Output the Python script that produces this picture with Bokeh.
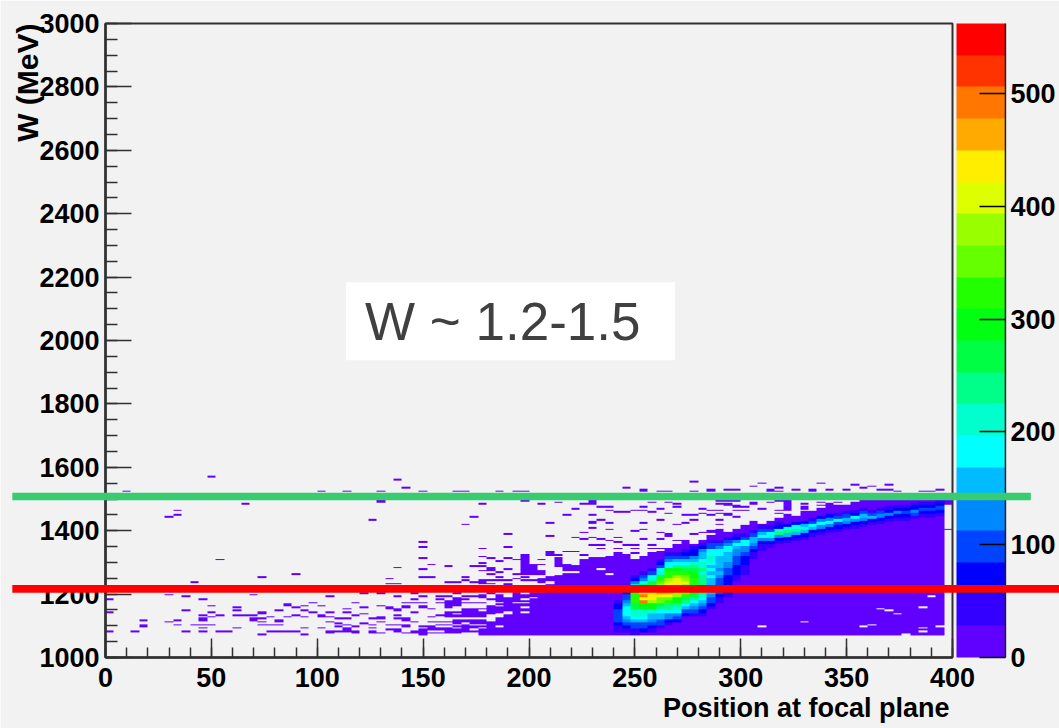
import numpy as np
from bokeh.plotting import figure
from bokeh.layouts import column
from bokeh.models import (Range1d, SingleIntervalTicker, FixedTicker, ColorBar, LinearColorMapper,
                          BoxAnnotation, Label)
from bokeh.embed import file_html
from bokeh.resources import INLINE

# colour levels, bottom (0) to top of the scale
palette = ["#6000ff", "#3300ff", "#0000ff", "#0044ff", "#0088ff", "#00bbff", "#00ffff", "#00ffcc",
           "#00ff88", "#00ff44", "#00ff11", "#22ff00", "#66ff00", "#99ff00", "#ddff00", "#ffee00",
           "#ffaa00", "#ff7700", "#ff3300", "#ff0000"]
z_max = 562
n_cols = 100       # columns across 0-400
cell_h = 5         # MeV per row
hot_h = 10         # MeV per hot cell
w_base = 1060

x_title = "Position at focal plane"
y_title = "W (MeV)"
annotation = "W ~ 1.2-1.5"
z_ticks = [0, 100, 200, 300, 400, 500]

sparse = {
    0: [1180, 1143, 1080], 2: [1520], 3: [1084], 4: [1116, 1103, 1098], 7: [1197, 1111, 1440],
    8: [1116, 1101, 1461, 1446], 9: [1190, 1148, 1084], 10: [1238, 1101],
    11: [1180, 1132, 1122, 1118, 1101, 1090, 1080], 12: [1568, 1164, 1143, 1126, 1101],
    13: [1307, 1132, 1084], 14: [1084], 15: [1158, 1148, 1132, 1090], 16: [1483, 1132],
    17: [1197, 1132, 1123, 1118], 18: [1254, 1143, 1138, 1120, 1115, 1110, 1105, 1075],
    19: [1126, 1101, 1084], 20: [1148, 1116, 1111, 1101, 1080], 21: [1167, 1162, 1126, 1080],
    22: [1265, 1158, 1132, 1084], 23: [1164, 1148, 1126, 1090, 1075], 24: [1175, 1143],
    25: [1525, 1164, 1132, 1126, 1090], 26: [1190, 1143, 1126, 1112, 1082, 1077],
    27: [1122, 1106, 1096, 1080], 28: [1525, 1154, 1143, 1122, 1101, 1090, 1087, 1084],
    29: [1175, 1133, 1096, 1082, 1077], 30: [1200, 1159, 1138, 1106],
    31: [1430, 1122, 1100, 1095, 1082, 1077],
    32: [1525, 1492, 1487, 1205, 1164, 1127, 1121, 1110, 1077],
    33: [1249, 1233, 1158, 1153, 1101, 1087],
    34: [1557, 1282, 1233, 1195, 1152, 1148, 1133, 1122, 1101, 1088, 1083],
    35: [1531, 1175, 1163, 1158, 1122, 1117, 1101, 1096, 1077],
    36: [1200, 1180, 1170, 1140, 1112, 1085],
    37: [1522, 1362, 1346, 1313, 1276, 1254, 1190, 1175, 1162, 1157, 1096, 1075],
    38: [1292, 1254, 1154, 1127, 1112], 39: [1195, 1182, 1175, 1112, 1101, 1090],
    40: [1287, 1239, 1195, 1112, 1103], 41: [1522, 1239, 1200, 1145],
    42: [1522, 1419, 1254, 1244, 1195, 1185, 1175, 1080],
    43: [1440, 1287, 1236, 1190, 1175, 1155, 1080],
    44: [1483, 1340, 1318, 1297, 1287, 1271, 1239, 1233, 1245, 1175, 1155, 1145],
    45: [1313, 1274, 1262, 1245, 1232, 1200, 1182], 46: [1522, 1303, 1268, 1255, 1245],
    47: [1388, 1346, 1313, 1276, 1240, 1234, 1229], 48: [1522, 1308, 1260, 1247],
    49: [1525, 1493, 1255, 1245], 50: [1292, 1245], 51: [1483, 1308, 1290],
    52: [1497, 1425, 1382], 53: [1489, 1323, 1311], 54: [1446, 1330], 55: [1497, 1467, 1376, 1330],
    56: [1483, 1392, 1371, 1320], 57: [1493, 1489, 1483, 1446, 1429, 1424, 1408, 1376, 1355],
    58: [1472, 1435, 1371, 1353, 1340], 59: [1472, 1461, 1425, 1402, 1366],
    60: [1497, 1456, 1376, 1360, 1340, 1329], 61: [1531, 1456, 1350],
    62: [1461, 1397, 1355, 1340, 1329, 1308], 63: [1528, 1524, 1472, 1461, 1425, 1402, 1371],
    64: [1489, 1456, 1355, 1340], 65: [1525, 1467, 1430, 1392, 1371, 1345],
    66: [1525, 1520, 1489, 1451, 1387, 1382], 67: [1483, 1472, 1419, 1366],
    68: [1446, 1425, 1369, 1364], 69: [1553, 1525, 1446, 1435, 1387], 70: [1467, 1451, 1392],
    71: [1528, 1524, 1461, 1446, 1397, 1392], 72: [1493, 1482, 1461, 1451, 1430, 1419],
    73: [1527, 1494, 1480, 1476, 1450, 1448], 74: [1527, 1494, 1479, 1471, 1460, 1445],
    75: [1471, 1460], 76: [1536, 1487, 1482], 77: [1547, 1469], 78: [1527, 1522, 1487],
    79: [1530, 1525, 1492, 1460, 1450], 81: [1527], 82: [1481, 1471, 1466],
    83: [1529, 1524], 84: [1547, 1487, 1479], 85: [1527, 1481], 86: [1487], 87: [1527],
    88: [1541], 89: [1532], 90: [1536], 91: [1527], 92: [1541, 1529], 93: [1523],
    96: [1523], 97: [1523], 98: [1527], 99: [1404],
}

solid = {
    36: [(1075, 1085)], 37: [(1075, 1092)],
    38: [(1077, 1100)], 39: [(1128, 1136), (1075, 1095)],
    40: [(1156, 1182), (1124, 1145), (1075, 1095)], 41: [(1161, 1192), (1124, 1135), (1075, 1119)],
    42: [(1127, 1156), (1112, 1118), (1087, 1103)], 43: [(1127, 1148), (1092, 1118)],
    44: [(1184, 1198), (1125, 1140), (1072, 1118)], 45: [(1275, 1283), (1135, 1166), (1072, 1115)],
    46: [(1165, 1200), (1140, 1158), (1072, 1130)], 47: [(1145, 1190), (1072, 1140)],
    48: [(1072, 1205)], 49: [(1261, 1324), (1072, 1200)], 50: [(1262, 1290), (1072, 1205)],
    51: [(1262, 1275), (1236, 1252), (1072, 1205)], 52: [(1321, 1333), (1239, 1254), (1072, 1229)],
    53: [(1285, 1310), (1072, 1262)], 54: [(1272, 1297), (1072, 1266)],
    55: [(1268, 1292), (1072, 1263)], 56: [(1072, 1308)], 57: [(1072, 1313)], 58: [(1072, 1315)],
    59: [(1072, 1320)], 60: [(1072, 1324)], 61: [(1072, 1327)], 62: [(1072, 1303)],
    63: [(1072, 1320)], 64: [(1072, 1331)], 65: [(1072, 1336)], 66: [(1072, 1345)],
    67: [(1072, 1357)], 68: [(1072, 1360)], 69: [(1072, 1357)], 70: [(1072, 1371)],
    71: [(1072, 1384)], 72: [(1072, 1405)], 73: [(1072, 1397)], 74: [(1072, 1403)],
    75: [(1072, 1413)], 76: [(1072, 1432)], 77: [(1072, 1422)], 78: [(1072, 1432)],
    79: [(1072, 1440)], 80: [(1460, 1495), (1072, 1450)], 81: [(1072, 1445)], 82: [(1072, 1460)],
    83: [(1072, 1462)], 84: [(1072, 1468)], 85: [(1072, 1478)], 86: [(1072, 1480)],
    87: [(1072, 1480)], 88: [(1072, 1490)], 89: [(1072, 1505)], 90: [(1072, 1505)],
    91: [(1072, 1505)], 92: [(1072, 1505)], 93: [(1072, 1505)], 94: [(1072, 1505)],
    95: [(1072, 1505)], 96: [(1072, 1505)], 97: [(1072, 1505)], 98: [(1072, 1505)],
    99: [(1478, 1500)],
}

holes = {
    38: [1082], 39: [1085], 41: [1105, 1095], 43: [1105], 44: [1095, 1105],
    46: [1175, 1127, 1096], 47: [1196, 1138], 48: [1175], 49: [1182, 1172, 1156, 1143],
    50: [1187], 58: [1276], 59: [1261], 77: [1096], 82: [1112], 89: [1096], 90: [1101],
    91: [1154], 92: [1148], 93: [1138], 94: [1075], 96: [1159, 1090, 1080], 97: [1191], 98: [1096],
}

hot = {
    60: (1080, [1, 1, 2, 3, 3, 3, 3, 2, 2, 1]),
    61: (1080, [1, 2, 3, 4, 5, 6, 6, 6, 5, 4, 3, 3, 2, 1]),
    62: (1070, [1, 1, 3, 3, 5, 6, 7, 7, 9, 9, 11, 11, 11, 11, 9, 7, 4, 2, 1]),
    63: (1080, [2, 3, 3, 5, 6, 7, 7, 10, 10, 17, 14, 17, 15, 12, 9, 6, 4, 3, 1]),
    64: (1080, [1, 2, 3, 4, 5, 5, 7, 10, 10, 13, 15, 15, 15, 13, 11, 9, 7, 6, 3, 1]),
    65: (1090, [1, 3, 3, 5, 5, 6, 8, 9, 12, 12, 15, 16, 15, 13, 12, 11, 9, 7, 6, 3, 2, 1]),
    66: (1100, [1, 2, 4, 4, 6, 8, 8, 11, 12, 14, 16, 16, 15, 14, 13, 11, 11, 10, 6, 6, 4, 3, 1]),
    67: (1110, [2, 3, 4, 6, 7, 8, 10, 10, 13, 13, 14, 15, 15, 14, 13, 11, 10, 8, 6, 5, 3, 1]),
    68: (1130, [2, 3, 5, 6, 8, 9, 11, 12, 13, 13, 14, 13, 12, 11, 9, 8, 6, 5, 3, 2, 1]),
    69: (1130, [1, 3, 4, 5, 6, 8, 9, 10, 10, 11, 11, 11, 10, 10, 9, 8, 7, 5, 4, 2, 2, 1]),
    70: (1130, [1, 2, 3, 4, 5, 6, 7, 8, 8, 8, 8, 8, 8, 7, 8, 7, 7, 6, 5, 5, 4, 2, 1]),
    71: (1150, [1, 2, 3, 3, 4, 5, 5, 5, 5, 5, 6, 5, 6, 5, 6, 7, 7, 6, 6, 3, 3, 1]),
    72: (1170, [1, 1, 2, 3, 3, 3, 3, 3, 4, 5, 4, 5, 5, 5, 5, 6, 6, 4, 3, 1]),
    73: (1190, [1, 2, 2, 2, 2, 2, 2, 3, 3, 4, 4, 5, 5, 5, 6, 6, 4, 3, 1]),
    74: (1240, [1, 1, 2, 2, 2, 3, 3, 3, 4, 4, 5, 6, 4, 2, 1]),
    75: (1260, [1, 1, 1, 2, 2, 2, 3, 4, 4, 6, 6, 3, 1]),
    76: (1310, [1, 1, 2, 3, 4, 5, 5, 3, 1]),
    77: (1335, [1, 1, 2, 4, 6, 5, 3, 1]),
    78: (1345, [1, 2, 4, 7, 6, 3, 1]),
    79: (1355, [1, 2, 4, 8, 7, 2, 1]),
    80: (1360, [1, 2, 5, 8, 6, 2]),
    81: (1365, [1, 2, 5, 8, 6, 2]),
    82: (1370, [1, 2, 5, 7, 5, 2]),
    83: (1380, [1, 2, 5, 6, 3, 1]),
    84: (1385, [1, 2, 4, 6, 4, 2]),
    85: (1390, [1, 2, 4, 6, 4, 2]),
    86: (1395, [1, 2, 3, 6, 3, 1]),
    87: (1400, [1, 2, 4, 5, 3, 1]),
    88: (1405, [1, 2, 4, 6, 2, 1]),
    89: (1410, [1, 2, 4, 5, 3, 1]),
    90: (1415, [1, 2, 5, 3, 1]),
    91: (1420, [1, 2, 4, 3, 1]),
    92: (1425, [1, 2, 4, 2, 1]),
    93: (1430, [1, 2, 4, 2, 1]),
    94: (1430, [1, 2, 3, 2, 1]),
    95: (1435, [1, 3, 4, 2, 1]),
    96: (1440, [1, 2, 3, 2, 1]),
    97: (1440, [1, 2, 3, 2, 1]),
    98: (1445, [1, 2, 3, 2, 1]),
}

# the two drawn bands and the note's box, in axis values (they run past the axes)
band_left = [-44, -44]
band_right = [437, 452]
band_low = [1496, 1204]
band_high = [1520, 1229]
band_color = ["#38cc70", "#ff0000"]
white_box = (113.6, 269, 1938, 2184)
text_pos = (122.6, 2061)
scale_edge_x = 425     # right edge of the colour scale

# ---- counts grid: rows of cell_h MeV, columns of 4 units ----------------
n_rows = 104
grid = np.full((n_rows, n_cols), np.nan)


def level_count(lvl):
    return (lvl + 0.5) * z_max / len(palette)


def row(w):
    return int(round((w - w_base) / cell_h))


for b, runs in solid.items():
    for lo, hi in runs:
        grid[row(lo):row(hi), b] = level_count(0)
for b, ws in holes.items():
    for w in ws:
        grid[row(w - cell_h / 2), b] = np.nan
for b, ws in sparse.items():
    for w in ws:
        grid[row(w - cell_h / 2), b] = level_count(0)
for b, (w0, levels) in hot.items():
    for i, lvl in enumerate(levels):
        r = row(w0 + i * hot_h)
        grid[r:r + 2, b] = level_count(lvl)

bg = "#f2f2f2"
dark = "#303030"
FONT = "Liberation Sans"
W, H = 1059, 728
LEFT, TOP, FW, FH = 105, 23, 847, 634

p = figure(width=W, height=H, output_backend="svg", toolbar_location=None,
           x_range=Range1d(0, 400), y_range=Range1d(1000, 3000),
           min_border_left=LEFT, min_border_right=W - LEFT - FW, min_border_top=TOP,
           min_border_bottom=H - TOP - FH,
           background_fill_color=bg, border_fill_color=bg)
p.grid.visible = False
p.outline_line_color = dark
p.outline_line_width = 2

mapper = LinearColorMapper(palette=palette, low=0, high=z_max, nan_color="rgba(0,0,0,0)")
p.image(image=[grid], x=0, y=w_base, dw=400, dh=n_rows * cell_h, color_mapper=mapper)

for ax, interval, minors in ((p.xaxis[0], 50, 5), (p.yaxis[0], 200, 4)):
    ax.ticker = SingleIntervalTicker(interval=interval, num_minor_ticks=minors)
    ax.axis_line_color = dark
    ax.axis_line_width = 2.5
    ax.major_tick_line_color = dark
    ax.minor_tick_line_color = dark
    ax.major_tick_line_width = 1.5
    ax.minor_tick_line_width = 1.5
    ax.major_tick_out = 0
    ax.minor_tick_out = 0
    ax.major_label_text_font = FONT
    ax.major_label_text_font_style = "bold"
    ax.major_label_text_font_size = "27px"
    ax.major_label_text_color = "black"
p.xaxis[0].major_tick_in = 19
p.xaxis[0].minor_tick_in = 10
p.yaxis[0].major_tick_in = 26
p.yaxis[0].minor_tick_in = 12
p.xaxis[0].major_label_standoff = 10
p.yaxis[0].major_label_standoff = 6

cb = ColorBar(color_mapper=mapper, ticker=FixedTicker(ticks=z_ticks), width=49, height=634,
              location=(851, 0), padding=0, margin=0, major_tick_in=26, major_tick_out=0,
              major_tick_line_color="black", major_tick_line_width=1.5, minor_tick_line_color=None,
              major_label_text_font=FONT, major_label_text_font_style="bold",
              major_label_text_font_size="27px", major_label_text_color="black",
              label_standoff=5, background_fill_color=None, border_line_color=None,
              bar_line_color=None)
p.add_layout(cb)

p.add_layout(BoxAnnotation(left=white_box[0], right=white_box[1], bottom=white_box[2], top=white_box[3],
                           fill_color="white", fill_alpha=1, line_color=None, level="overlay"))
p.add_layout(Label(x=text_pos[0], y=text_pos[1], text=annotation, text_font=FONT,
                   text_font_size="53px", text_color="#404040", text_baseline="middle",
                   level="overlay"))
p.add_layout(Label(x=400, y=1000, x_offset=-3, y_offset=-65, text=x_title, text_font=FONT,
                   text_font_style="bold", text_font_size="27px", text_color="black",
                   text_align="right", text_baseline="bottom"), "below")
p.add_layout(Label(x=0, y=3000, x_offset=-78, y_offset=0, text=y_title, text_font=FONT,
                   text_font_style="bold", text_font_size="30px", text_color="black",
                   text_align="right", text_baseline="middle", angle=90, angle_units="deg"), "left")

# overlay covering the whole canvas: same scales, frame = canvas, so the bands can leave the axes
sx = FW / 400
sy = FH / 2000
over = figure(width=W, height=H, output_backend="svg", toolbar_location=None,
              x_range=Range1d(-LEFT / sx, (W - LEFT) / sx),
              y_range=Range1d(1000 - (H - TOP - FH) / sy, 3000 + TOP / sy),
              x_axis_location=None, y_axis_location=None, min_border=0,
              background_fill_color=None, border_fill_color=None, outline_line_color=None)
over.grid.visible = False
over.segment(x0=[scale_edge_x], x1=[scale_edge_x], y0=[1000], y1=[3000], line_color="#202020",
             line_width=1.5)
over.quad(left=band_left, right=band_right, bottom=band_low, top=band_high, fill_color=band_color,
          line_color=None)

# nested, so that the page does not line its frame up with the axes of the chart below it
holder = column(over, margin=(-H, 0, 0, 0))
layout = column(p, holder, spacing=0)
open("out.html", "w").write(file_html(layout, INLINE))
